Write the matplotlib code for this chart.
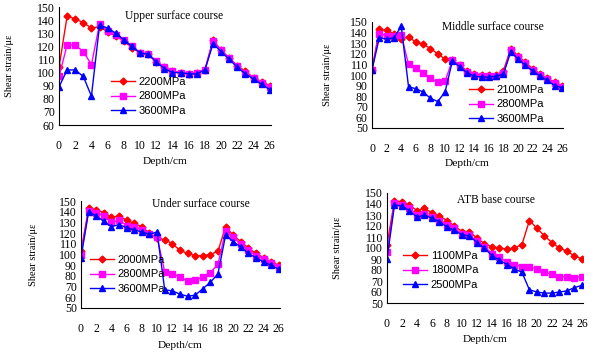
import matplotlib
matplotlib.use("Agg")
import matplotlib.pyplot as plt
import numpy as np

depth = np.arange(27)
xticks = list(range(0, 27, 2))

# Upper surface course
upper_labels = ["2200MPa", "2800MPa", "3600MPa"]
upper_a = [104, 143, 141, 138, 134, 135, 131, 128, 124, 119, 115, 114, 108, 104, 101, 100, 99, 100, 102, 125, 117, 111, 105, 101, 96, 93, 90]
upper_b = [97, 121, 121, 116, 106, 137, 132, 129, 125, 120, 115, 114, 109, 104, 101, 100, 99, 100, 102, 124, 117, 111, 105, 100, 96, 92, 89]
upper_c = [89, 102, 102, 97, 82, 136, 134, 130, 125, 120, 115, 114, 108, 103, 100, 100, 99, 99, 102, 122, 116, 110, 104, 99, 95, 91, 87]

# Middle surface course
middle_labels = ["2100MPa", "2800MPa", "3600MPa"]
middle_a = [105, 143, 142, 139, 134, 136, 131, 129, 125, 120, 115, 114, 109, 104, 101, 100, 100, 100, 104, 125, 118, 112, 106, 101, 97, 93, 90]
middle_b = [105, 139, 137, 137, 138, 110, 107, 102, 97, 93, 94, 114, 109, 103, 100, 99, 99, 99, 102, 124, 117, 111, 105, 100, 96, 92, 89]
middle_c = [105, 135, 134, 135, 146, 89, 87, 84, 78, 75, 84, 113, 108, 102, 99, 98, 98, 99, 101, 122, 115, 109, 104, 99, 95, 90, 88]

# Under surface course
under_labels = ["2000MPa", "2800MPa", "3600MPa"]
under_a = [103, 143, 142, 139, 135, 136, 132, 129, 126, 120, 115, 114, 110, 104, 101, 99, 99, 100, 103, 126, 118, 112, 106, 101, 97, 93, 90]
under_b = [100, 141, 139, 136, 130, 132, 127, 126, 123, 119, 116, 84, 82, 79, 75, 76, 79, 83, 91, 122, 116, 110, 104, 99, 96, 92, 88]
under_c = [97, 140, 136, 131, 126, 128, 125, 123, 121, 119, 121, 67, 66, 63, 61, 62, 68, 74, 82, 118, 112, 107, 101, 97, 93, 90, 86]

# ATB base course
atb_labels = ["1100MPa", "1800MPa", "2500MPa"]
atb_a = [103, 143, 142, 139, 134, 136, 132, 129, 125, 120, 115, 115, 109, 104, 101, 100, 99, 100, 103, 125, 118, 111, 105, 100, 97, 93, 90]
atb_b = [96, 141, 139, 136, 130, 131, 128, 125, 121, 118, 113, 112, 106, 101, 95, 92, 87, 85, 83, 83, 81, 78, 76, 74, 74, 73, 74]
atb_c = [90, 139, 138, 134, 128, 130, 127, 124, 119, 116, 112, 111, 105, 100, 93, 89, 85, 81, 78, 62, 60, 59, 59, 60, 61, 64, 66]

W, H = 600, 354
fig = plt.figure(figsize=(W / 100, H / 100), dpi=100)

serif = "Liberation Serif"
sans = "Liberation Sans"

panels = [
    # title, labels, series, ylim, box(l, t, r, b), title pos, legend pos, ylabel x, xlabel y
    ("Upper surface course", upper_labels, [upper_a, upper_b, upper_c], (60, 150),
     (59, 7, 271, 125), (125, 16), (111, 77), 10, 162),
    ("Middle surface course", middle_labels, [middle_a, middle_b, middle_c], (50, 150),
     (372, 22, 563, 128), (442, 27), (469, 85), 328, 163),
    ("Under surface course", under_labels, [under_a, under_b, under_c], (50, 150),
     (81, 201, 280, 308), (152, 204), (90, 255), 33, 345),
    ("ATB base course", atb_labels, [atb_a, atb_b, atb_c], (50, 150),
     (387, 193, 583, 303), (457, 200), (403, 251), 338, 340),
]

styles = [
    dict(color="#ff0000", marker="D", markersize=3.5),
    dict(color="#ff00ff", marker="s", markersize=4.5),
    dict(color="#0000ff", marker="^", markersize=5),
]

for title, labels, series, ylim, box, tpos, lpos, ylx, xly in panels:
    l, t, r, b = box
    ax = fig.add_axes([l / W, 1 - b / H, (r - l) / W, (b - t) / H])
    handles = []
    for vals, st, lab in zip(series, styles, labels):
        h, = ax.plot(depth, vals, linewidth=1, label=lab, **st)
        handles.append(h)
    ax.set_xlim(0, 26.15)
    ax.set_ylim(*ylim)
    ax.set_xticks(xticks)
    ax.set_yticks(list(range(ylim[0], ylim[1] + 1, 10)))
    ax.spines["top"].set_visible(False)
    ax.spines["right"].set_visible(False)
    ax.tick_params(axis="x", length=0, pad=11, labelsize=8.5)
    ax.tick_params(axis="y", length=0, pad=3, labelsize=8.5)
    for lbl in ax.get_xticklabels() + ax.get_yticklabels():
        lbl.set_fontfamily(serif)
    ax.set_xlabel("Depth/cm", fontfamily=serif, fontsize=8.2, va="center")
    ax.xaxis.set_label_coords(0.5, (b - xly) / (b - t))
    ax.set_ylabel("Shear strain/\u03bc\u03b5", fontfamily=serif, fontsize=7.5, va="center")
    ax.yaxis.set_label_coords((ylx - l) / (r - l), 0.5)
    fig.text(tpos[0] / W, 1 - tpos[1] / H, title, fontfamily=serif, fontsize=8.3,
             ha="left", va="center")
    fig.legend(handles=handles, loc="upper left",
               bbox_to_anchor=(lpos[0] / W, 1 - lpos[1] / H),
               frameon=False, prop={"family": sans, "size": 8},
               handlelength=2.2, handletextpad=0.3, labelspacing=0.4,
               borderaxespad=0, borderpad=0)

fig.savefig("out.png", dpi=100)
